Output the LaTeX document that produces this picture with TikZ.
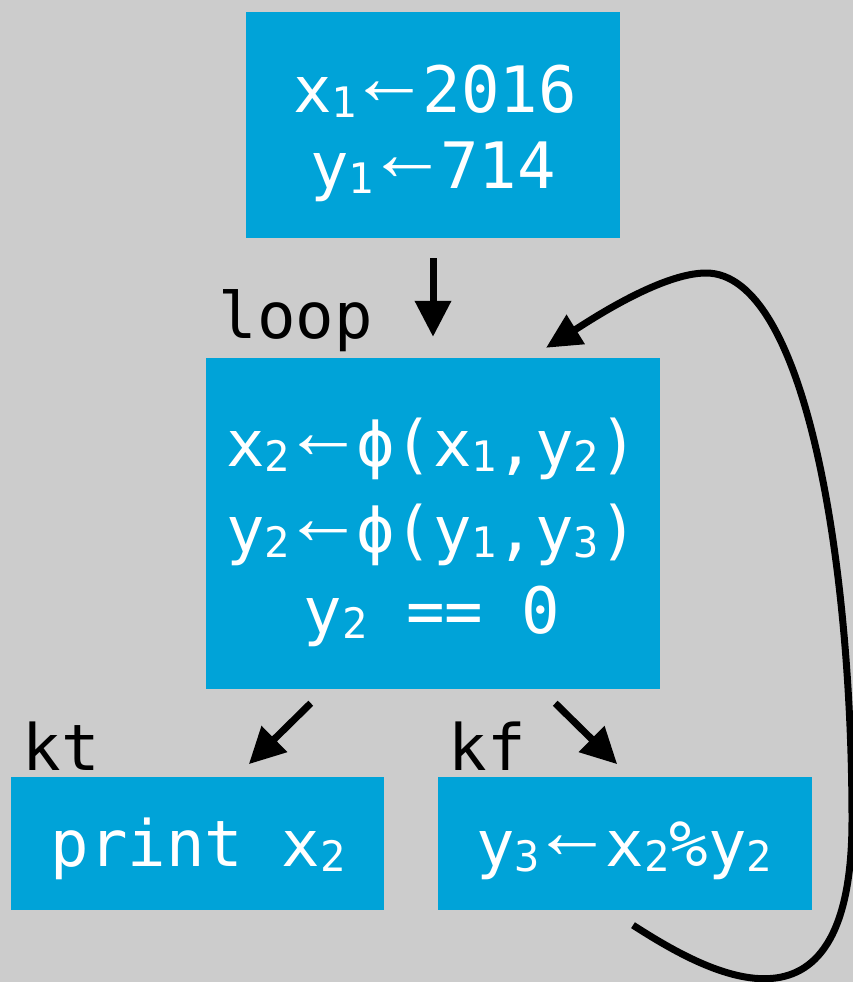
\documentclass[tikz,border=0pt]{standalone}
\usepackage{fontspec}
\setmonofont{DejaVu Sans Mono}
\newfontfamily\arrfont{Liberation Sans}
\usetikzlibrary{arrows.meta,calc}
\definecolor{bg}{RGB}{204,204,204}
\definecolor{boxc}{RGB}{0,163,216}
\newcommand{\sbs}[1]{\raisebox{-5pt}{\fontsize{42}{42}\selectfont #1}}
\newcommand{\arrw}{\makebox[66pt]{\raisebox{7.5pt}{\arrfont\fontsize{80}{80}\selectfont ←}}}
\tikzset{
  blk/.style={fill=boxc, draw=none, inner sep=0pt},
  txt/.style={text=white, font=\fontsize{64}{76}\selectfont\ttfamily, inner sep=0pt, anchor=base},
  lbl/.style={text=black, font=\fontsize{64}{76}\selectfont\ttfamily, inner sep=0pt, anchor=base},
  arr/.style={line width=7pt, -{Triangle[length=36pt,width=35pt]}},
}
\begin{document}
\begin{tikzpicture}[x=1pt,y=-1pt]
\fill[bg] (0,0) rectangle (853,982);
\useasboundingbox (0,0) rectangle (853,982);
% boxes
\node[blk, minimum width=374pt, minimum height=226pt] (init) at (433,125) {};
\node[blk, minimum width=454pt, minimum height=331pt] (loopb) at (433,523.5) {};
\node[blk, minimum width=373pt, minimum height=133pt] (kt) at (197.5,843.5) {};
\node[blk, minimum width=374pt, minimum height=133pt] (kf) at (625,843.5) {};
% texts
\node[txt] (t1) at (435,112) {x\sbs{1}\arrw 2016};
\node[txt] (t2) at (433,188) {y\sbs{1}\arrw 714};
\node[txt] (t3) at (432,466) {x\sbs{2}\arrw ϕ(x\sbs{1},y\sbs{2})};
\node[txt] (t4) at (432,552) {y\sbs{2}\arrw ϕ(y\sbs{1},y\sbs{3})};
\node[txt] (t5) at (432,633) {y\sbs{2} == 0};
\node[txt] (t6) at (198,866) {print x\sbs{2}};
\node[txt] (t7) at (624,866) {y\sbs{3}\arrw x\sbs{2}\%y\sbs{2}};
% labels
\node[lbl] (l1) at (296,338) {loop};
\node[lbl] (l2) at (61.5,770) {kt};
\node[lbl] (l3) at (487.5,770) {kf};
% connectors
\draw[arr, shorten <=20pt, shorten >=21pt] (init.south) -- (loopb.north);
\draw[arr, shorten <=20pt, shorten >=18pt] ($(loopb.south)+(-108,0)$) -- ($(kt.north)+(38.5,0)$);
\draw[arr, shorten <=20pt, shorten >=18pt] ($(loopb.south)+(108,0)$) -- ($(kf.north)+(5,0)$);
\coordinate (ls) at ($(kf.south)+(8,15)$);
\coordinate (le) at ($(loopb.north)+(113,-10)$);
\draw[line width=7pt, -{Triangle[length=35pt,width=33pt]}] (ls) .. controls (700,968) and (852,1060) .. (852,820)
  .. controls (852,560) and (805,273) .. (706,273)
  .. controls (660,273) and (586,323) .. (le);
\end{tikzpicture}
\end{document}
